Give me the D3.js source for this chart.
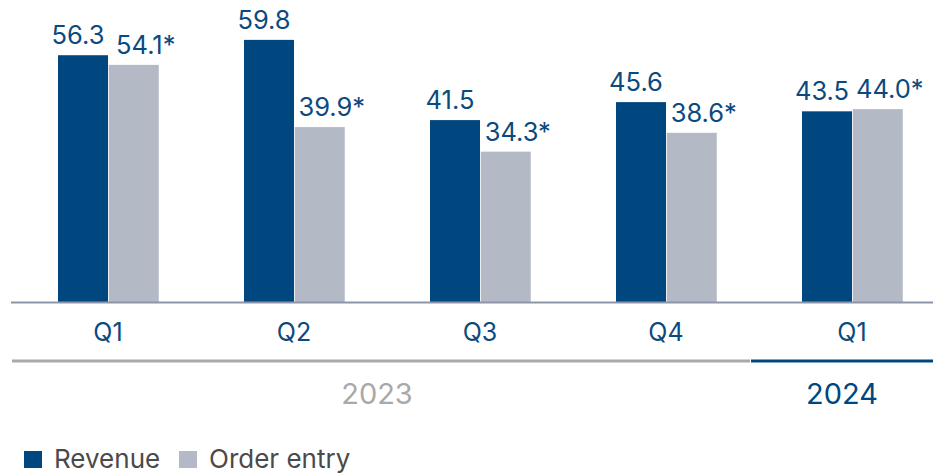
<!DOCTYPE html>
<html><head><meta charset="utf-8">
<script src="https://cdn.jsdelivr.net/npm/d3@7"></script>
<style>body{margin:0;background:#fff}svg{display:block;font-family:Inter,"Noto Sans",sans-serif}</style>
</head><body><svg id="c" width="933" height="474"></svg>
<script>
const categories = ["Q1","Q2","Q3","Q4","Q1"];
const revenue = [56.3, 59.8, 41.5, 45.6, 43.5];
const orderEntry = [54.1, 39.9, 34.3, 38.6, 44.0];
const revenueLabels = ["56.3","59.8","41.5","45.6","43.5"];
const orderLabels = ["54.1*","39.9*","34.3*","38.6*","44.0*"];
const years = [{label:"2023", from:0, to:3}, {label:"2024", from:4, to:4}];
const seriesNames = ["Revenue","Order entry"];

const NAVY = "#00467f", GREY = "#b3bac6";
const svg = d3.select("#c");
const x = d3.scaleBand().domain(d3.range(categories.length)).range([15, 945]);
const inner = d3.scaleBand().domain([0,1]).range([-50, 51]).paddingInner(0.01);
const y = d3.scaleLinear().domain([0, 60]).range([302, 39]);

const g = svg.append("g");
const data = categories.map((c,i)=>({i, c, vals:[revenue[i], orderEntry[i]], labs:[revenueLabels[i], orderLabels[i]]}));
const grp = g.selectAll("g.grp").data(data).join("g").attr("transform", d=>`translate(${x(d.i)+x.bandwidth()/2},0)`);
grp.selectAll("rect").data(d=>d.vals.map((v,k)=>({v,k}))).join("rect")
  .attr("x", d=>inner(d.k)).attr("width", 50)
  .attr("y", d=>y(d.v)).attr("height", d=>y(0)-y(d.v))
  .attr("fill", d=>d.k===0?NAVY:GREY);
grp.selectAll("text.val").data(d=>d.vals.map((v,k)=>({v,k,l:d.labs[k]}))).join("text")
  .attr("class","val")
  .attr("x", d=>inner(d.k)+25+(d.k===0?-5:12))
  .attr("y", d=>y(d.v)-11)
  .attr("text-anchor","middle").attr("font-size",25.5).attr("fill","#0b4a7e")
  .text(d=>d.l);

// baseline
svg.append("line").attr("x1",11).attr("x2",933).attr("y1",y(0)+0.5).attr("y2",y(0)+0.5)
  .attr("stroke","#8d96a8").attr("stroke-width",2);

// category labels
svg.append("g").selectAll("text").data(data).join("text")
  .attr("x", d=>x(d.i)+x.bandwidth()/2).attr("y", 341)
  .attr("text-anchor","middle").attr("font-size",25).attr("fill","#0b4a7e")
  .text(d=>d.c);

// year lines
const yrColor = ["#a9a9a9", NAVY];
const yrSpan = [[12, 750],[751, 933]];
years.forEach((yr,k)=>{
  const [start,end] = yrSpan[k];
  svg.append("line").attr("x1",start).attr("x2",end).attr("y1",361).attr("y2",361)
    .attr("stroke",yrColor[k]).attr("stroke-width",3);
  svg.append("text").attr("x",(start+end)/2 - (k===0?4:0)).attr("y",404)
    .attr("text-anchor","middle").attr("font-size",29).attr("fill",k===0?"#a9a9a9":NAVY)
    .text(yr.label);
});

// legend
const lg = svg.append("g");
const lx = [24, 179];
seriesNames.forEach((n,k)=>{
  lg.append("rect").attr("x",lx[k]).attr("y",451).attr("width",18).attr("height",17).attr("fill",k===0?NAVY:GREY);
  lg.append("text").attr("x",lx[k]+30).attr("y",468).attr("font-size",26).attr("fill","#4a4a4a").text(n);
});
</script></body></html>
